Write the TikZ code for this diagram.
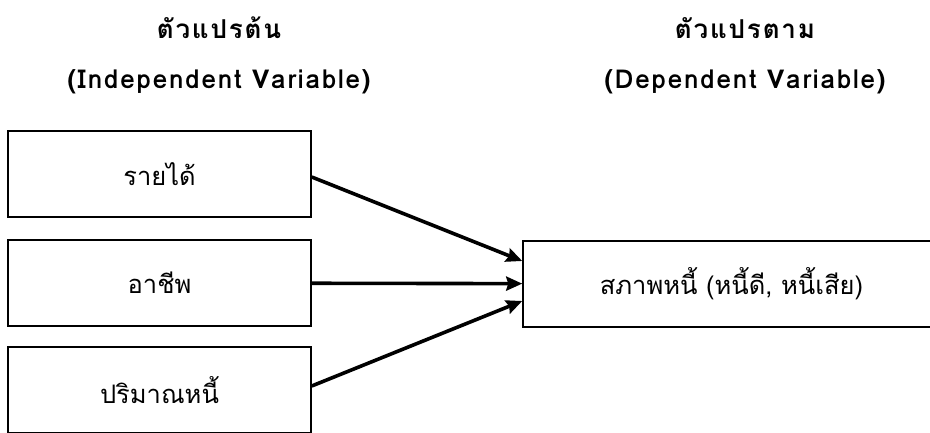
\documentclass[tikz,border=0pt]{standalone}
\usepackage{fontspec}
\setmainfont[Script=Thai]{Loma}
\newfontfamily\headfont[Script=Thai, LetterSpace=7]{Loma}
\usetikzlibrary{arrows.meta}
\begin{document}
\begin{tikzpicture}[x=1pt,y=1pt]
\useasboundingbox (0,0) rectangle (930,432);
\tikzstyle{varbox} = [rectangle, draw=black, line width=1.5pt, text centered, minimum width=303pt, minimum height=86pt, font=\fontsize{25.5}{30}\selectfont]
\tikzstyle{heading} = [font=\headfont\bfseries\fontsize{26}{30}\selectfont]
\node (headind) [heading] at (219,404) {ตัวแปรต้น};
\node (subind) [heading] at (219,350) {(Independent Variable)};
\node (headdep) [heading] at (745,404) {ตัวแปรตาม};
\node (subdep) [heading] at (745,350) {(Dependent Variable)};
\node (income) [varbox] at (159.5,258) {รายได้};
\node (career) [varbox, below of=income, node distance=109pt] {อาชีพ};
\node (amount) [varbox, below of=career, node distance=107pt] {ปริมาณหนี้};
\node (status) [varbox, minimum width=417pt] at (731.5,148) {สภาพหนี้ (หนี้ดี, หนี้เสีย)};
\tikzstyle{arrow} = [line width=3.6pt, -{Stealth[length=16pt,width=14pt,inset=2pt]}]
\draw [arrow] ([yshift=-3pt]income.east) -- ([yshift=23pt]status.west);
\draw [arrow] (career) -- (status);
\draw [arrow] ([yshift=4pt]amount.east) -- ([yshift=-17pt]status.west);
\end{tikzpicture}
\end{document}
